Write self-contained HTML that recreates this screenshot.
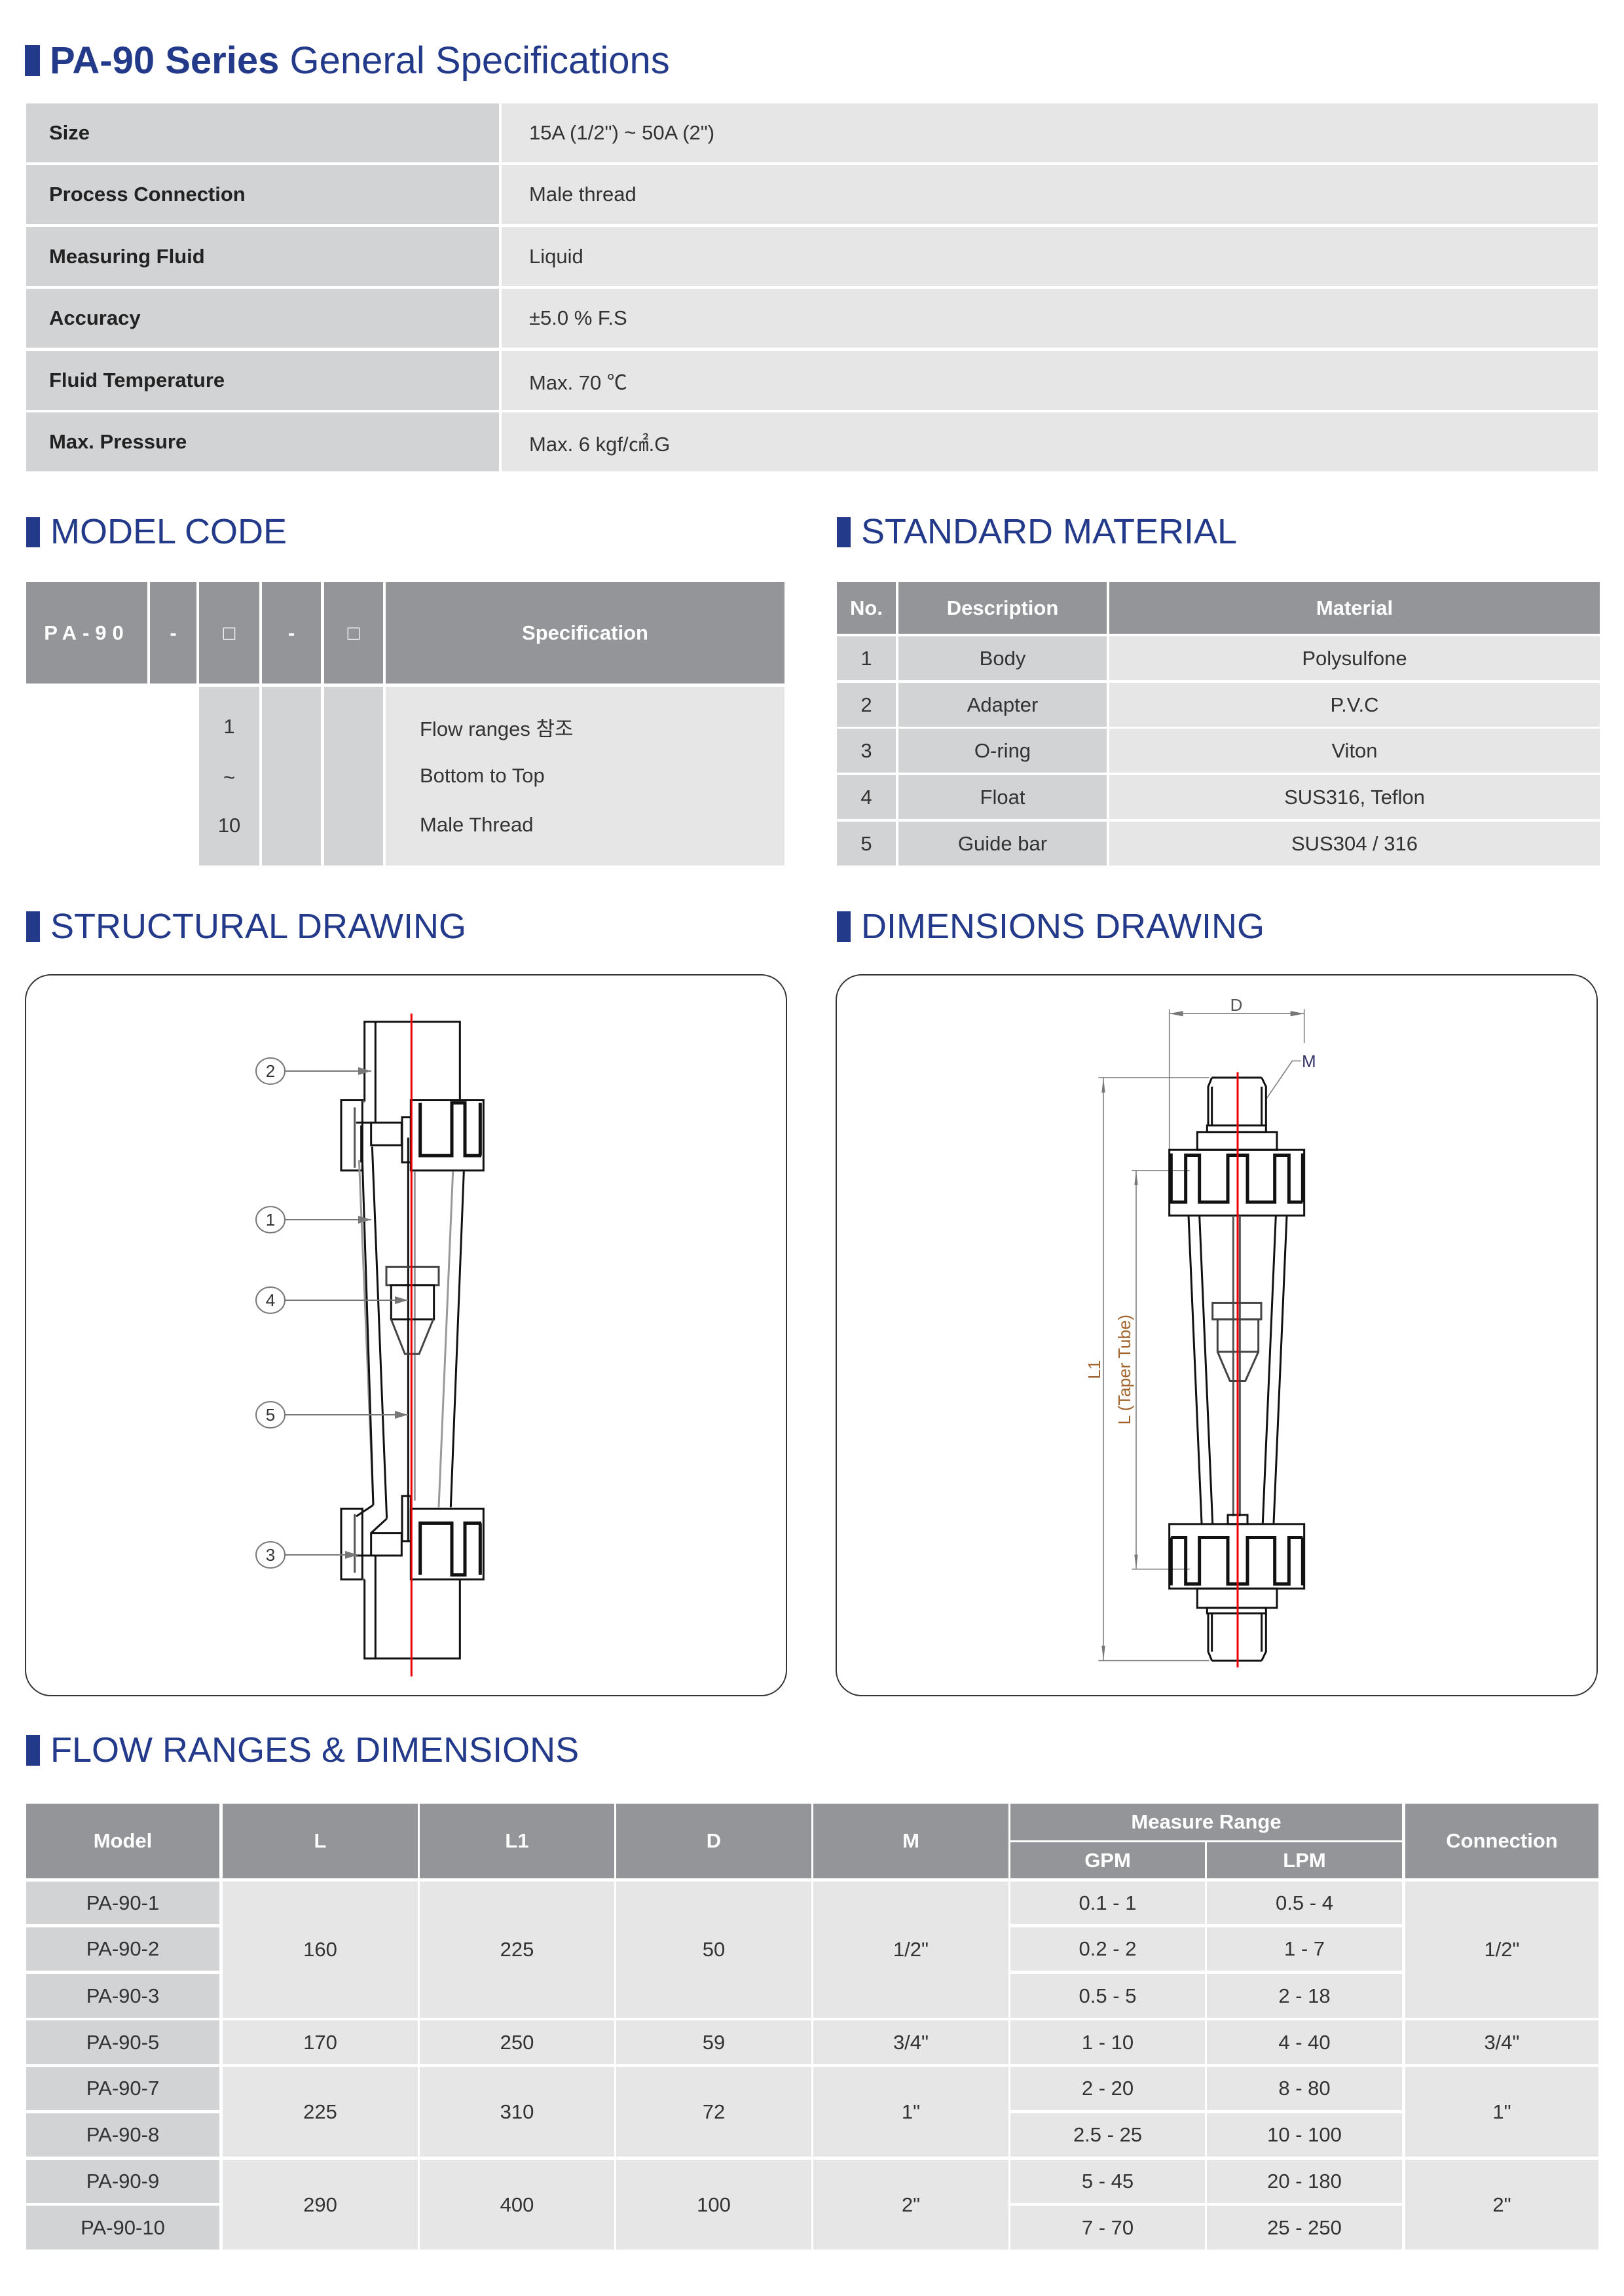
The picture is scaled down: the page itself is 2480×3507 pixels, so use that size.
<!DOCTYPE html>
<html><head><meta charset="utf-8">
<style>
body{margin:0;background:#fff}
#p{position:relative;width:2480px;height:3507px;overflow:hidden;background:#fff;font-family:"Liberation Sans","Noto Sans CJK KR",sans-serif;color:#333}
.c{position:absolute;display:flex;align-items:center;justify-content:center;font-size:31px;color:#333;box-sizing:border-box}
.h{background:#939598;color:#fff;font-weight:bold}
.g{background:#d2d3d5}
.l{background:#e6e6e6}
.L{justify-content:flex-start}
.bar{position:absolute;background:#233a8b;width:21px}
.t{position:absolute;color:#233a8b;font-size:54px;line-height:1;white-space:nowrap}
.box{position:absolute;border:2.5px solid #333;border-radius:40px;box-sizing:border-box}
</style></head><body><div id="p">

<div class="bar" style="left:38px;top:69px;height:47px;width:23px"></div>
<div class="t" style="left:76px;top:64px;font-size:58px"><b>PA-90 Series</b> General Specifications</div>

<!-- spec table -->
<div class="c g L" style="left:40px;top:158px;width:722px;height:90px;padding-left:35px;font-weight:bold;color:#222">Size</div>
<div class="c l L" style="left:766px;top:158px;width:1674px;height:90px;padding-left:42px">15A (1/2") ~ 50A (2")</div>
<div class="c g L" style="left:40px;top:252px;width:722px;height:90px;padding-left:35px;font-weight:bold;color:#222">Process Connection</div>
<div class="c l L" style="left:766px;top:252px;width:1674px;height:90px;padding-left:42px">Male thread</div>
<div class="c g L" style="left:40px;top:347px;width:722px;height:90px;padding-left:35px;font-weight:bold;color:#222">Measuring Fluid</div>
<div class="c l L" style="left:766px;top:347px;width:1674px;height:90px;padding-left:42px">Liquid</div>
<div class="c g L" style="left:40px;top:441px;width:722px;height:90px;padding-left:35px;font-weight:bold;color:#222">Accuracy</div>
<div class="c l L" style="left:766px;top:441px;width:1674px;height:90px;padding-left:42px">±5.0 % F.S</div>
<div class="c g L" style="left:40px;top:536px;width:722px;height:90px;padding-left:35px;font-weight:bold;color:#222">Fluid Temperature</div>
<div class="c l L" style="left:766px;top:536px;width:1674px;height:90px;padding-left:42px">Max. 70 ℃</div>
<div class="c g L" style="left:40px;top:630px;width:722px;height:90px;padding-left:35px;font-weight:bold;color:#222">Max. Pressure</div>
<div class="c l L" style="left:766px;top:630px;width:1674px;height:90px;padding-left:42px">Max. 6 kgf/㎠.G</div>

<div class="bar" style="left:40px;top:790px;height:46px"></div>
<div class="t" style="left:77px;top:785px">MODEL CODE</div>
<div class="bar" style="left:1278px;top:790px;height:46px"></div>
<div class="t" style="left:1315px;top:785px">STANDARD MATERIAL</div>

<!-- model code -->
<div class="c h" style="left:40px;top:889px;width:185px;height:155px;letter-spacing:9px">PA-90</div>
<div class="c h" style="left:229px;top:889px;width:71px;height:155px">-</div>
<div class="c h" style="left:304px;top:889px;width:92px;height:155px;font-weight:normal">□</div>
<div class="c h" style="left:400px;top:889px;width:90px;height:155px">-</div>
<div class="c h" style="left:495px;top:889px;width:90px;height:155px;font-weight:normal">□</div>
<div class="c h" style="left:589px;top:889px;width:609px;height:155px">Specification</div>
<div class="c g" style="left:304px;top:1049px;width:92px;height:273px"></div>
<div class="c g" style="left:400px;top:1049px;width:90px;height:273px"></div>
<div class="c g" style="left:495px;top:1049px;width:90px;height:273px"></div>
<div class="c l" style="left:589px;top:1049px;width:609px;height:273px"></div>
<div class="c" style="left:304px;top:1090px;width:92px;height:40px">1</div>
<div class="c" style="left:304px;top:1168px;width:92px;height:40px">~</div>
<div class="c" style="left:304px;top:1241px;width:92px;height:40px">10</div>
<div class="c L" style="left:641px;top:1090px;width:500px;height:40px">Flow ranges 참조</div>
<div class="c L" style="left:641px;top:1165px;width:500px;height:40px">Bottom to Top</div>
<div class="c L" style="left:641px;top:1240px;width:500px;height:40px">Male Thread</div>

<!-- material -->
<div class="c h" style="left:1278px;top:889px;width:90px;height:79px">No.</div>
<div class="c h" style="left:1372px;top:889px;width:318px;height:79px">Description</div>
<div class="c h" style="left:1694px;top:889px;width:749px;height:79px">Material</div>
<div class="c g" style="left:1278px;top:972px;width:90px;height:67px">1</div>
<div class="c g" style="left:1372px;top:972px;width:318px;height:67px">Body</div>
<div class="c l" style="left:1694px;top:972px;width:749px;height:67px">Polysulfone</div>
<div class="c g" style="left:1278px;top:1043px;width:90px;height:67px">2</div>
<div class="c g" style="left:1372px;top:1043px;width:318px;height:67px">Adapter</div>
<div class="c l" style="left:1694px;top:1043px;width:749px;height:67px">P.V.C</div>
<div class="c g" style="left:1278px;top:1113px;width:90px;height:67px">3</div>
<div class="c g" style="left:1372px;top:1113px;width:318px;height:67px">O-ring</div>
<div class="c l" style="left:1694px;top:1113px;width:749px;height:67px">Viton</div>
<div class="c g" style="left:1278px;top:1184px;width:90px;height:67px">4</div>
<div class="c g" style="left:1372px;top:1184px;width:318px;height:67px">Float</div>
<div class="c l" style="left:1694px;top:1184px;width:749px;height:67px">SUS316, Teflon</div>
<div class="c g" style="left:1278px;top:1255px;width:90px;height:67px">5</div>
<div class="c g" style="left:1372px;top:1255px;width:318px;height:67px">Guide bar</div>
<div class="c l" style="left:1694px;top:1255px;width:749px;height:67px">SUS304 / 316</div>

<div class="bar" style="left:40px;top:1392px;height:47px"></div>
<div class="t" style="left:77px;top:1388px">STRUCTURAL DRAWING</div>
<div class="bar" style="left:1278px;top:1392px;height:47px"></div>
<div class="t" style="left:1315px;top:1388px">DIMENSIONS DRAWING</div>

<div class="box" style="left:38px;top:1488px;width:1164px;height:1103px"></div>
<div class="box" style="left:1276px;top:1488px;width:1164px;height:1103px"></div>

<svg style="position:absolute;left:0;top:0" width="2480" height="3507">
<defs><marker id="a" markerWidth="10" markerHeight="8" refX="10" refY="4" orient="auto"><path d="M0,1 L10,4 L0,7" fill="#777"/></marker></defs>
<g transform="translate(340,1500) scale(0.33333,0.68871)" fill="none" stroke="#111" stroke-width="3">
<path vector-effect="non-scaling-stroke" d="M650,265 V88 H1087 V260 M700,88 V312"/>
<rect vector-effect="non-scaling-stroke" x="543" y="262" width="97" height="156"/>
<path vector-effect="non-scaling-stroke" stroke="#555" d="M605,278 V412 M640,265 H650"/>
<rect vector-effect="non-scaling-stroke" x="862" y="262" width="333" height="156"/>
<path vector-effect="non-scaling-stroke" stroke-width="5" d="M905,268 V385 H1050 V268 H1110 V385 H1185 M1180,268 V385"/>
<rect vector-effect="non-scaling-stroke" x="680" y="312" width="140" height="50"/>
<rect vector-effect="non-scaling-stroke" x="822" y="300" width="40" height="100"/>
<path vector-effect="non-scaling-stroke" d="M612,312 H680 M635,318 V400"/>
<path vector-effect="non-scaling-stroke" stroke="#999" d="M625,395 L690,1160 M1055,420 L990,1165 M880,420 V1150"/>
<path vector-effect="non-scaling-stroke" d="M640,395 L690,1160 M685,365 L752,1190 M1105,420 L1045,1165 M690,1160 L612,1185 M752,1190 L680,1222"/>
<rect vector-effect="non-scaling-stroke" x="543" y="1168" width="97" height="157"/>
<path vector-effect="non-scaling-stroke" stroke="#555" d="M605,1180 V1310 M640,1325 H650"/>
<rect vector-effect="non-scaling-stroke" x="862" y="1168" width="333" height="157"/>
<path vector-effect="non-scaling-stroke" stroke-width="5" d="M905,1315 V1200 H1050 V1315 H1110 V1200 H1185 M1180,1200 V1315"/>
<rect vector-effect="non-scaling-stroke" x="680" y="1222" width="140" height="50"/>
<rect vector-effect="non-scaling-stroke" x="822" y="1140" width="40" height="100"/>
<path vector-effect="non-scaling-stroke" d="M612,1272 H680 M650,1325 V1500 H1087 V1325 M700,1272 V1500 M850,345 V1240"/>
<rect vector-effect="non-scaling-stroke" x="750" y="632" width="240" height="40" stroke="#444"/>
<rect vector-effect="non-scaling-stroke" x="772" y="672" width="196" height="76"/>
<path vector-effect="non-scaling-stroke" stroke="#444" d="M772,748 L835,825 H900 L965,748"/>
<path vector-effect="non-scaling-stroke" stroke="#e00" stroke-width="3" d="M865,70 V1540"/>
</g>
<g fill="none" stroke="#777" stroke-width="2">
<ellipse cx="413" cy="1636" rx="22" ry="20"/><ellipse cx="413" cy="1863" rx="22" ry="20"/><ellipse cx="413" cy="1986" rx="22" ry="20"/><ellipse cx="413" cy="2161" rx="22" ry="20"/><ellipse cx="413" cy="2375" rx="22" ry="20"/>
<path d="M435,1636 H567" marker-end="url(#a)"/><path d="M435,1863 H567" marker-end="url(#a)"/><path d="M435,1986 H623" marker-end="url(#a)"/><path d="M435,2161 H623" marker-end="url(#a)"/><path d="M435,2375 H547" marker-end="url(#a)"/>
</g>
<g font-family="Liberation Sans,sans-serif" font-size="26" fill="#333" text-anchor="middle">
<text x="413" y="1645">2</text><text x="413" y="1872">1</text><text x="413" y="1995">4</text><text x="413" y="2170">5</text><text x="413" y="2384">3</text>
</g>

<g transform="translate(1600,1500) scale(0.33333,0.68871)" fill="none" stroke="#111" stroke-width="3">
<path vector-effect="non-scaling-stroke" stroke="#777" stroke-width="1.5" d="M557,60 V375 M1175,60 V135 M557,70 H1175 M232,212 H740 M232,1505 H740 M255,212 V1505 M385,418 H650 M385,1302 H650 M405,418 V1302 M1160,175 H1120 L1000,260"/>
<path vector-effect="non-scaling-stroke" fill="#777" stroke="none" d="M557,70 L620,64 L620,76 Z M1175,70 L1112,64 L1112,76 Z M255,212 L247,245 L263,245 Z M255,1505 L247,1472 L263,1472 Z M405,418 L397,450 L413,450 Z M405,1302 L397,1270 L413,1270 Z"/>
<path vector-effect="non-scaling-stroke" d="M752,212 H980 M752,212 L735,232 V318 M980,212 L1000,232 V318 M752,232 V318 M980,232 V318"/>
<rect vector-effect="non-scaling-stroke" x="730" y="318" width="270" height="15"/>
<rect vector-effect="non-scaling-stroke" x="685" y="333" width="365" height="39"/>
<rect vector-effect="non-scaling-stroke" x="557" y="372" width="618" height="146"/>
<path vector-effect="non-scaling-stroke" stroke-width="5" d="M565,380 V488 H632 V384 H695 V488 H825 V384 H915 V488 H1040 V384 H1105 V488 H1168 M1168,380 V488"/>
<path vector-effect="non-scaling-stroke" d="M645,518 L705,1200 M695,518 L755,1200 M1095,518 L1035,1200 M1045,518 L985,1200"/>
<path vector-effect="non-scaling-stroke" stroke="#555" d="M850,518 V1185 M880,518 V1185"/>
<rect vector-effect="non-scaling-stroke" x="755" y="712" width="223" height="36" stroke="#444"/>
<rect vector-effect="non-scaling-stroke" x="778" y="748" width="187" height="72" stroke="#444"/>
<path vector-effect="non-scaling-stroke" stroke="#444" d="M778,820 L835,885 H905 L965,820"/>
<rect vector-effect="non-scaling-stroke" x="825" y="1182" width="90" height="20"/>
<rect vector-effect="non-scaling-stroke" x="557" y="1202" width="618" height="143"/>
<path vector-effect="non-scaling-stroke" stroke-width="5" d="M565,1232 V1338 M1168,1232 V1338 M565,1232 H632 V1335 H695 V1232 H825 V1335 H915 V1232 H1040 V1335 H1105 V1232 H1168"/>
<rect vector-effect="non-scaling-stroke" x="685" y="1345" width="365" height="43"/>
<rect vector-effect="non-scaling-stroke" x="730" y="1388" width="270" height="12"/>
<path vector-effect="non-scaling-stroke" d="M752,1505 H980 M752,1505 L735,1485 V1400 M980,1505 L1000,1485 V1400 M752,1400 V1485 M980,1400 V1485"/>
<path vector-effect="non-scaling-stroke" stroke="#e00" d="M870,200 V1520"/>
</g>
<g font-family="Liberation Sans,sans-serif" font-size="26" fill="#555">
<text x="1888" y="1544" text-anchor="middle">D</text>
<text x="1988" y="1630" fill="#336">M</text>
<text transform="translate(1680,2092) rotate(-90)" text-anchor="middle" fill="#a0622a">L1</text>
<text transform="translate(1726,2092) rotate(-90)" text-anchor="middle" fill="#a0622a">L (Taper Tube)</text>
</g>
</svg>

<div class="bar" style="left:40px;top:2650px;height:47px"></div>
<div class="t" style="left:77px;top:2646px">FLOW RANGES &amp; DIMENSIONS</div>

<!-- flow table header -->
<div class="c h" style="left:40px;top:2755px;width:295px;height:114px">Model</div>
<div class="c h" style="left:340px;top:2755px;width:298px;height:114px">L</div>
<div class="c h" style="left:641px;top:2755px;width:297px;height:114px">L1</div>
<div class="c h" style="left:941px;top:2755px;width:298px;height:114px">D</div>
<div class="c h" style="left:1242px;top:2755px;width:298px;height:114px">M</div>
<div class="c h" style="left:1543px;top:2755px;width:598px;height:56px">Measure Range</div>
<div class="c h" style="left:1543px;top:2814px;width:297px;height:55px">GPM</div>
<div class="c h" style="left:1843px;top:2814px;width:298px;height:55px">LPM</div>
<div class="c h" style="left:2146px;top:2755px;width:295px;height:114px">Connection</div>

<div class="c g" style="left:40px;top:2874px;width:295px;height:65px">PA-90-1</div>
<div class="c g" style="left:40px;top:2944px;width:295px;height:66px">PA-90-2</div>
<div class="c g" style="left:40px;top:3015px;width:295px;height:67px">PA-90-3</div>
<div class="c g" style="left:40px;top:3086px;width:295px;height:67px">PA-90-5</div>
<div class="c g" style="left:40px;top:3157px;width:295px;height:66px">PA-90-7</div>
<div class="c g" style="left:40px;top:3228px;width:295px;height:66px">PA-90-8</div>
<div class="c g" style="left:40px;top:3299px;width:295px;height:66px">PA-90-9</div>
<div class="c g" style="left:40px;top:3369px;width:295px;height:67px">PA-90-10</div>

<div class="c l" style="left:340px;top:2874px;width:298px;height:208px">160</div>
<div class="c l" style="left:641px;top:2874px;width:297px;height:208px">225</div>
<div class="c l" style="left:941px;top:2874px;width:298px;height:208px">50</div>
<div class="c l" style="left:1242px;top:2874px;width:298px;height:208px">1/2"</div>
<div class="c l" style="left:2146px;top:2874px;width:295px;height:208px">1/2"</div>
<div class="c l" style="left:340px;top:3086px;width:298px;height:67px">170</div>
<div class="c l" style="left:641px;top:3086px;width:297px;height:67px">250</div>
<div class="c l" style="left:941px;top:3086px;width:298px;height:67px">59</div>
<div class="c l" style="left:1242px;top:3086px;width:298px;height:67px">3/4"</div>
<div class="c l" style="left:2146px;top:3086px;width:295px;height:67px">3/4"</div>
<div class="c l" style="left:340px;top:3157px;width:298px;height:137px">225</div>
<div class="c l" style="left:641px;top:3157px;width:297px;height:137px">310</div>
<div class="c l" style="left:941px;top:3157px;width:298px;height:137px">72</div>
<div class="c l" style="left:1242px;top:3157px;width:298px;height:137px">1"</div>
<div class="c l" style="left:2146px;top:3157px;width:295px;height:137px">1"</div>
<div class="c l" style="left:340px;top:3299px;width:298px;height:137px">290</div>
<div class="c l" style="left:641px;top:3299px;width:297px;height:137px">400</div>
<div class="c l" style="left:941px;top:3299px;width:298px;height:137px">100</div>
<div class="c l" style="left:1242px;top:3299px;width:298px;height:137px">2"</div>
<div class="c l" style="left:2146px;top:3299px;width:295px;height:137px">2"</div>

<div class="c l" style="left:1543px;top:2874px;width:297px;height:65px">0.1 - 1</div>
<div class="c l" style="left:1843px;top:2874px;width:298px;height:65px">0.5 - 4</div>
<div class="c l" style="left:1543px;top:2944px;width:297px;height:66px">0.2 - 2</div>
<div class="c l" style="left:1843px;top:2944px;width:298px;height:66px">1 - 7</div>
<div class="c l" style="left:1543px;top:3015px;width:297px;height:67px">0.5 - 5</div>
<div class="c l" style="left:1843px;top:3015px;width:298px;height:67px">2 - 18</div>
<div class="c l" style="left:1543px;top:3086px;width:297px;height:67px">1 - 10</div>
<div class="c l" style="left:1843px;top:3086px;width:298px;height:67px">4 - 40</div>
<div class="c l" style="left:1543px;top:3157px;width:297px;height:66px">2 - 20</div>
<div class="c l" style="left:1843px;top:3157px;width:298px;height:66px">8 - 80</div>
<div class="c l" style="left:1543px;top:3228px;width:297px;height:66px">2.5 - 25</div>
<div class="c l" style="left:1843px;top:3228px;width:298px;height:66px">10 - 100</div>
<div class="c l" style="left:1543px;top:3299px;width:297px;height:66px">5 - 45</div>
<div class="c l" style="left:1843px;top:3299px;width:298px;height:66px">20 - 180</div>
<div class="c l" style="left:1543px;top:3369px;width:297px;height:67px">7 - 70</div>
<div class="c l" style="left:1843px;top:3369px;width:298px;height:67px">25 - 250</div>

</div></body></html>
